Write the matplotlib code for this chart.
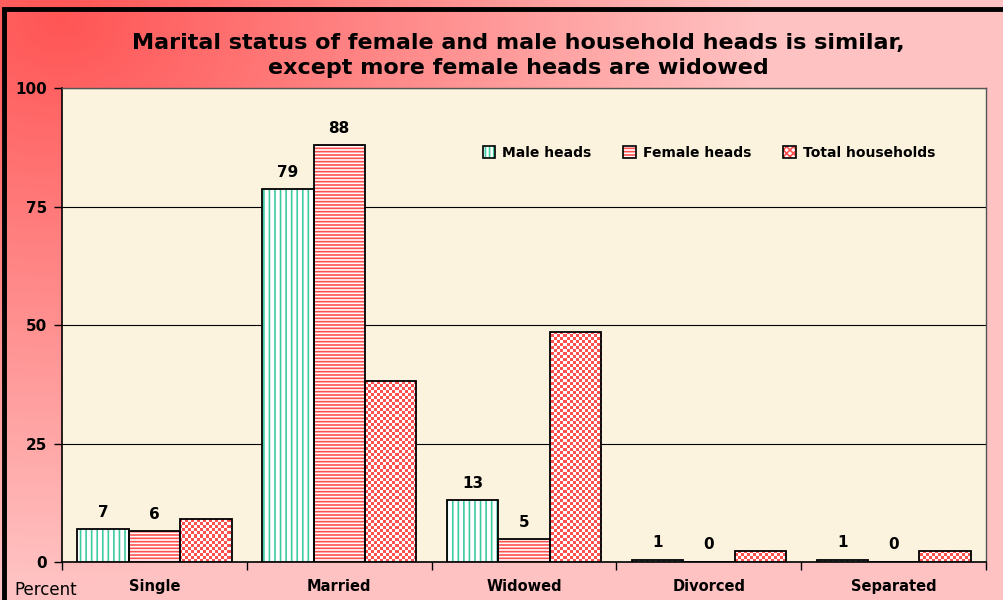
import numpy as np
import matplotlib
matplotlib.use("Agg")
import matplotlib.pyplot as plt
from matplotlib.colors import to_rgba
from matplotlib.patches import Patch, Rectangle

# data
categories = ["Single", "Married", "Widowed", "Divorced", "Separated"]
male_heads = [7.0, 78.7, 13.1, 0.5, 0.5]
female_heads = [6.5, 88.0, 4.9, 0.1, 0.1]
total_households = [9.1, 38.2, 48.5, 2.3, 2.3]
male_labels = ["7", "79", "13", "1", "1"]
female_labels = ["6", "88", "5", "0", "0"]
legend_names = ["Male heads", "Female heads", "Total households"]
yticks = [0, 25, 50, 75, 100]

TEAL = "#3DCBA0"
RED = "#FF5050"
plt.rcParams["font.family"] = ["DejaVu Sans"]
plt.rcParams["hatch.linewidth"] = 1.2

fig = plt.figure(figsize=(10.04, 6), dpi=100)

# background gradient: red at top-left fading into pink
bg = fig.add_axes([0, 0, 1, 1], zorder=-10)
H, W = 600, 1004
yy, xx = np.mgrid[0:H, 0:W]
t = np.clip(np.sqrt(((xx - 60) / 700.0) ** 2 + ((yy - 20) / 560.0) ** 2), 0, 1)
c0 = np.array([255, 85, 85]) / 255.0
c1 = np.array([255, 194, 194]) / 255.0
img = c0[None, None, :] * (1 - t[..., None]) + c1[None, None, :] * t[..., None]
bg.imshow(img, aspect="auto", extent=[0, 1, 0, 1])
bg.set_xlim(0, 1)
bg.set_ylim(0, 1)
bg.axis("off")
fig.patches.append(Rectangle((0.004, -0.02), 1.02, 1.005, transform=fig.transFigure,
                             fill=False, edgecolor="black", linewidth=3.5, zorder=5))

ax = fig.add_axes([0.0618, 0.0633, 0.9203, 0.79])
ax.set_facecolor("#FCF3DE")

x = np.arange(len(categories))
w = 0.278

# male heads: teal vertical lines on white
ax.bar(x - w, male_heads, w, color="white", edgecolor=TEAL, hatch="|||", linewidth=0, zorder=3)
ax.bar(x - w, male_heads, w, fill=False, edgecolor="black", linewidth=1.3, zorder=4)
# female heads: red horizontal lines on white
ax.bar(x, female_heads, w, color="white", edgecolor=RED, hatch="-----", linewidth=0, zorder=3)
ax.bar(x, female_heads, w, fill=False, edgecolor="black", linewidth=1.3, zorder=4)
# total households: red/white checks
tot = ax.bar(x + w, total_households, w, color="white", linewidth=0, zorder=3)
n_x, n_y = 924 // 3, 474 // 3
checker = ((np.indices((n_y, n_x)).sum(axis=0)) % 2)
chk_img = np.ones((n_y, n_x, 3))
chk_img[checker == 1] = np.array([255, 80, 80]) / 255.0
for b in tot:
    im = ax.imshow(chk_img, extent=[-0.5, 4.5, 0, 100], aspect="auto",
                   interpolation="nearest", zorder=3.5)
    im.set_clip_path(b)
ax.bar(x + w, total_households, w, fill=False, edgecolor="black", linewidth=1.3, zorder=4)
ax.set_xlim(-0.5, 4.5)
ax.set_ylim(0, 100)

for i in range(len(categories)):
    ax.annotate(male_labels[i], (x[i] - w, male_heads[i]), xytext=(0, 12),
                textcoords="offset points", ha="center", va="center",
                fontsize=11, fontweight="bold", zorder=6)
    ax.annotate(female_labels[i], (x[i], female_heads[i]), xytext=(0, 12),
                textcoords="offset points", ha="center", va="center",
                fontsize=11, fontweight="bold", zorder=6)

ax.set_yticks(yticks)
ax.set_yticklabels([str(v) for v in yticks], fontsize=11, fontweight="bold")
ax.yaxis.grid(True, color="black", linewidth=0.8)
ax.set_axisbelow(True)
ax.tick_params(axis="y", direction="out", length=6, width=1, pad=5)

ax.set_xticks(x)
ax.set_xticklabels(categories, fontsize=10.5, fontweight="bold")
ax.set_xticks(np.arange(-0.5, 5, 1), minor=True)
ax.tick_params(axis="x", which="major", length=0, pad=12)
ax.tick_params(axis="x", which="minor", direction="out", length=6, width=1)

for s in ["left", "bottom"]:
    ax.spines[s].set_color("black")
    ax.spines[s].set_linewidth(1.2)
for s in ["top", "right"]:
    ax.spines[s].set_color("#555555")
    ax.spines[s].set_linewidth(1.0)

handles = [
    Patch(facecolor="white", edgecolor=TEAL, hatch="||||"),
    Patch(facecolor="white", edgecolor=RED, hatch="-----"),
    Patch(facecolor="white", edgecolor=RED, hatch="xxxxx"),
]
hatch_cols = [TEAL, RED, RED]
leg = ax.legend(handles, legend_names, loc="center", bbox_to_anchor=(0.70, 0.863),
                ncol=3, frameon=False, prop={"weight": "bold", "size": 10},
                handlelength=0.9, handleheight=0.9, columnspacing=2.3, handletextpad=0.5)
for p, hc in zip(leg.get_patches(), hatch_cols):
    p.set_edgecolor("black")
    p.set_linewidth(1.2)
    p._hatch_color = to_rgba(hc)

fig.text(0.516, 0.928, "Marital status of female and male household heads is similar,",
         ha="center", va="center", fontsize=16, fontweight="bold")
fig.text(0.516, 0.886, "except more female heads are widowed",
         ha="center", va="center", fontsize=16, fontweight="bold")
fig.text(0.014, 0.016, "Percent", ha="left", va="center", fontsize=12)

fig.savefig("out.png", dpi=100)
